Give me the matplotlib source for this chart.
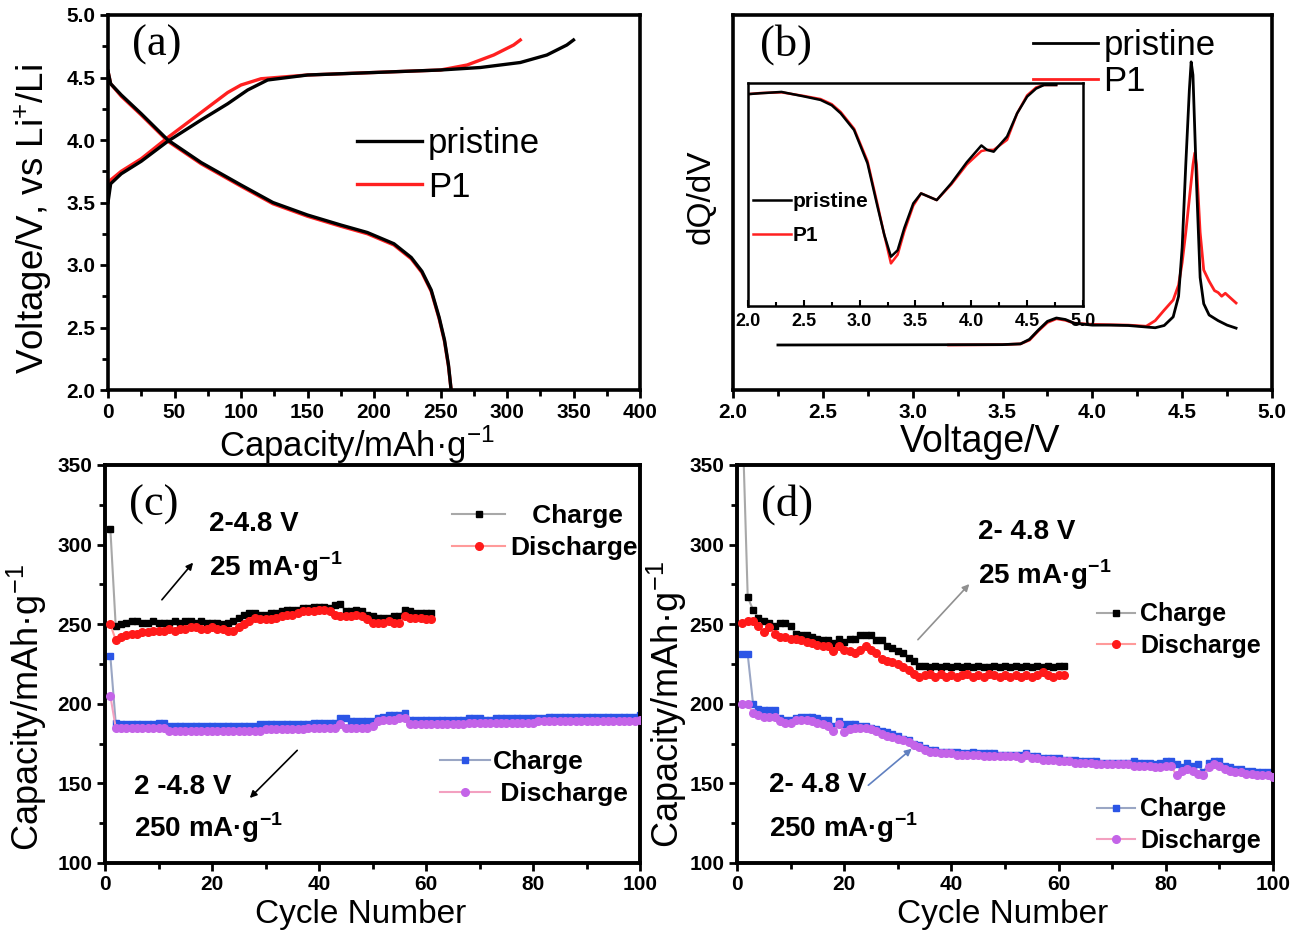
import matplotlib
matplotlib.use("Agg")
import matplotlib.pyplot as plt
from matplotlib.ticker import MultipleLocator, NullLocator, FormatStrFormatter
import numpy as np

plt.rcParams['font.family'] = ['Liberation Sans', 'DejaVu Sans']
plt.rcParams['mathtext.fontset'] = 'custom'
plt.rcParams['mathtext.rm'] = 'Liberation Sans'
plt.rcParams['mathtext.bf'] = 'Liberation Sans:bold'

# (a) charge / discharge profiles
a_chg_pris_cap = [0, 2, 10, 25, 45, 70, 90, 105, 120, 150, 200, 250, 280, 310, 330, 345, 350]
a_chg_pris_v = [3.50, 3.65, 3.73, 3.83, 3.99, 4.16, 4.29, 4.40, 4.48, 4.52, 4.54, 4.56, 4.58, 4.62, 4.68, 4.76, 4.80]
a_chg_p1_cap = [0, 2, 10, 25, 45, 70, 90, 100, 115, 150, 200, 250, 270, 290, 305, 310]
a_chg_p1_v = [3.55, 3.68, 3.75, 3.85, 4.02, 4.22, 4.38, 4.44, 4.49, 4.52, 4.54, 4.56, 4.60, 4.68, 4.76, 4.80]
a_dis_cap = [0, 2, 10, 25, 45, 70, 100, 124, 150, 175, 195, 215, 228, 236, 243, 249, 253, 256, 258]
a_dis_pris_v = [4.55, 4.45, 4.36, 4.21, 4.00, 3.82, 3.64, 3.50, 3.40, 3.32, 3.26, 3.17, 3.06, 2.95, 2.80, 2.58, 2.40, 2.20, 2.00]
a_dis_p1_v = [4.55, 4.45, 4.35, 4.20, 3.99, 3.81, 3.63, 3.49, 3.39, 3.31, 3.25, 3.16, 3.05, 2.94, 2.79, 2.57, 2.39, 2.19, 2.00]

# (b) dQ/dV
b_pris_v = [2.25, 3.5, 3.6, 3.65, 3.7, 3.75, 3.8, 3.85, 3.9, 4.0, 4.1, 4.2, 4.3, 4.35, 4.4, 4.45,
            4.48, 4.5, 4.52, 4.54, 4.55, 4.56, 4.58, 4.6, 4.62, 4.65, 4.7, 4.75, 4.8]
b_pris_q = [12.0, 12.1, 12.3, 13.5, 16.0, 18.3, 19.2, 18.8, 17.8, 17.3, 17.3, 17.2, 16.8, 16.6, 17.2, 19.5,
            25, 38, 60, 80, 87.5, 84, 55, 30, 23, 20, 18.5, 17.3, 16.5]
b_p1_v = [3.2, 3.5, 3.6, 3.65, 3.7, 3.75, 3.8, 3.85, 3.9, 4.0, 4.1, 4.2, 4.3, 4.35, 4.4, 4.45,
          4.48, 4.5, 4.52, 4.54, 4.56, 4.57, 4.58, 4.6, 4.62, 4.65, 4.68, 4.7, 4.72, 4.74, 4.77, 4.8]
b_p1_q = [12.0, 12.1, 12.3, 13.3, 15.8, 18.0, 19.0, 18.6, 17.8, 17.5, 17.4, 17.3, 17.0, 18.5, 21.3, 24,
          28, 34, 42, 51, 60, 63.2, 60, 42, 32, 29, 26.5, 26, 25, 25.8, 24.5, 23.2]

# (b) inset
ins_v = [2.0, 2.11, 2.3, 2.5, 2.65, 2.75, 2.83, 2.95, 3.07, 3.16, 3.22, 3.28, 3.34, 3.40, 3.48, 3.55,
         3.62, 3.69, 3.82, 3.96, 4.09, 4.14, 4.20, 4.32, 4.41, 4.50, 4.58, 4.65, 4.76]
ins_pris = [0.95, 0.954, 0.96, 0.94, 0.924, 0.90, 0.864, 0.789, 0.64, 0.445, 0.32, 0.221, 0.25, 0.35, 0.46, 0.505,
            0.49, 0.475, 0.55, 0.645, 0.72, 0.70, 0.692, 0.76, 0.864, 0.939, 0.975, 0.991, 0.991]
ins_p1 = [0.95, 0.955, 0.958, 0.942, 0.928, 0.905, 0.87, 0.795, 0.65, 0.455, 0.32, 0.191, 0.23, 0.335, 0.45, 0.505,
          0.49, 0.475, 0.545, 0.635, 0.695, 0.70, 0.70, 0.745, 0.864, 0.945, 0.98, 0.991, 0.991]

# (c) cycling, 25 mA/g
c_chg_hi = [310, 249, 250, 251, 252, 252, 251, 251, 252, 251,
            251, 251, 252, 251, 252, 252, 251, 252, 251, 251,
            251, 250, 251, 252, 254, 256, 257, 257, 256, 256,
            257, 257, 258, 259, 259, 259, 260, 260, 261, 261,
            261, 260, 262, 263, 258, 258, 259, 258, 256, 255,
            254, 254, 254, 255, 255, 259, 258, 257, 257, 257, 257]
c_dis_hi = [250, 240, 242, 243, 244, 244, 245, 245, 246, 246,
            246, 247, 246, 247, 247, 248, 248, 247, 247, 248,
            247, 247, 246, 246, 248, 250, 252, 254, 253, 253,
            253, 254, 255, 256, 256, 257, 258, 258, 258, 259,
            259, 258, 256, 255, 255, 255, 256, 255, 253, 251,
            251, 251, 252, 251, 251, 255, 254, 254, 254, 253, 253]
# (c) cycling, 250 mA/g
c_chg_lo = [230, 188, 187, 187, 187, 187, 187, 187, 187, 188,
            188, 186, 186, 186, 186, 186, 186, 186, 186, 186,
            186, 186, 186, 186, 186, 186, 186, 186, 187, 187,
            187, 187, 187, 187, 187, 187, 187, 187, 188, 188,
            188, 188, 188, 191, 191, 189, 189, 189, 189, 189,
            191, 192, 193, 193, 193, 194, 190, 190, 190, 190,
            190, 190, 190, 190, 190, 190, 190, 191, 191, 191,
            190, 190, 191, 191, 191, 191, 191, 191, 191, 191,
            191, 191, 192, 192, 192, 192, 192, 192, 192, 192,
            192, 192, 192, 192, 192, 192, 192, 192, 192, 193]
c_dis_lo = [205, 185, 185, 185, 185, 185, 185, 185, 185, 185,
            185, 183, 183, 183, 183, 183, 183, 183, 183, 183,
            183, 183, 183, 183, 183, 183, 183, 183, 183, 184,
            184, 184, 184, 184, 184, 184, 184, 185, 185, 185,
            185, 185, 185, 187, 185, 185, 185, 185, 185, 186,
            189, 190, 190, 190, 191, 191, 187, 187, 187, 187,
            187, 187, 187, 187, 187, 187, 187, 188, 188, 188,
            188, 188, 188, 188, 188, 188, 188, 188, 188, 188,
            189, 189, 189, 189, 189, 189, 189, 189, 189, 189,
            189, 189, 189, 189, 189, 189, 189, 189, 189, 190]

# (d) cycling, 25 mA/g
d_chg_hi = [380, 267, 259, 254, 252, 251, 249, 251, 251, 249,
            244, 243, 243, 242, 241, 240, 240, 238, 241, 239,
            241, 241, 243, 243, 243, 240, 240, 236, 235, 233,
            232, 229, 227, 224, 224, 223, 224, 223, 224, 223,
            224, 223, 224, 223, 224, 223, 223, 224, 223, 224,
            223, 224, 223, 224, 223, 224, 223, 224, 223, 224, 224]
d_dis_hi = [251, 252, 252, 249, 245, 248, 244, 242, 242, 241,
            241, 240, 239, 238, 237, 236, 236, 233, 236, 234,
            233, 232, 234, 236, 234, 232, 228, 227, 226, 225,
            223, 221, 219, 217, 218, 219, 217, 219, 217, 218,
            217, 218, 219, 217, 218, 217, 219, 218, 217, 218,
            217, 218, 217, 218, 217, 218, 220, 218, 217, 218, 218]
# (d) cycling, 250 mA/g
d_chg_lo = [231, 231, 200, 197, 196, 196, 196, 191, 190, 190,
            191, 192, 192, 192, 191, 190, 190, 186, 189, 187,
            187, 187, 186, 186, 185, 184, 183, 182, 181, 180,
            178, 177, 175, 174, 172, 171, 171, 170, 170, 170,
            170, 169, 169, 170, 169, 169, 169, 169, 168, 168,
            168, 168, 168, 169, 167, 167, 166, 166, 166, 166,
            165, 165, 165, 164, 164, 164, 164, 163, 163, 163,
            163, 163, 163, 164, 163, 163, 163, 162, 163, 164,
            164, 162, 160, 163, 161, 162, 157, 163, 164, 164,
            161, 160, 159, 159, 158, 158, 157, 157, 157, 156]
d_dis_lo = [200, 200, 194, 193, 192, 192, 192, 189, 188, 188,
            190, 190, 190, 189, 188, 187, 186, 183, 187, 182,
            184, 185, 185, 185, 184, 183, 181, 180, 179, 178,
            177, 176, 174, 173, 171, 170, 170, 169, 169, 169,
            168, 168, 168, 168, 168, 167, 167, 167, 167, 167,
            167, 167, 166, 168, 166, 166, 165, 165, 165, 164,
            164, 164, 163, 163, 163, 163, 162, 162, 162, 162,
            162, 162, 162, 161, 161, 161, 161, 160, 160, 161,
            161, 155, 158, 159, 158, 156, 155, 160, 162, 161,
            159, 158, 157, 157, 156, 156, 155, 155, 155, 154]

W, H = 1299, 943
fig = plt.figure(figsize=(W / 100, H / 100), dpi=100)


def box(l, t, r, b):
    return [l / W, 1 - b / H, (r - l) / W, (b - t) / H]


def style(ax, tick_size=15, lw=2.6):
    for s in ax.spines.values():
        s.set_linewidth(lw)
    ax.tick_params(which='both', direction='out', top=False, right=False, width=2)
    ax.tick_params(which='major', length=6, labelsize=tick_size, pad=3)
    ax.tick_params(which='minor', length=4)
    for lab in ax.get_xticklabels() + ax.get_yticklabels():
        lab.set_fontweight('bold')


panel_font = dict(family='Liberation Serif', fontsize=32)
sup = r'$^{\mathbf{-1}}$'

# ---------- (a)
ax = fig.add_axes(box(108, 15, 640, 390))
ax.plot(a_chg_p1_cap, a_chg_p1_v, color='#ff2020', lw=2.4, label='P1', zorder=2)
ax.plot(a_chg_pris_cap, a_chg_pris_v, color='black', lw=2.4, label='pristine', zorder=3)
ax.plot(a_dis_cap, a_dis_p1_v, color='#ff2020', lw=2.4, zorder=2)
ax.plot(a_dis_cap, a_dis_pris_v, color='black', lw=2.4, zorder=3)
ax.set_xlim(0, 400)
ax.set_ylim(2.0, 5.0)
ax.xaxis.set_major_locator(MultipleLocator(50))
ax.xaxis.set_minor_locator(MultipleLocator(25))
ax.yaxis.set_major_locator(MultipleLocator(0.5))
ax.yaxis.set_minor_locator(MultipleLocator(0.25))
ax.yaxis.set_major_formatter(FormatStrFormatter('%.1f'))
style(ax, tick_size=15)
ax.set_xlabel('Capacity/mAh·g$^{-1}$', fontsize=25, va='top')
ax.xaxis.set_label_coords(0.468, -0.09)
ax.set_ylabel('Voltage/V, vs Li$^{+}$/Li', fontsize=26.5)
ax.yaxis.set_label_coords(-0.10, 0.456)
h, l = ax.get_legend_handles_labels()
ax.legend(h[::-1], l[::-1], loc='upper left', bbox_to_anchor=(0.468, 0.70), frameon=False,
          fontsize=25, handlelength=1.87, handletextpad=0.17, labelspacing=0.29,
          borderpad=0, borderaxespad=0)
ax.text(0.045, 0.92, '(a)', transform=ax.transAxes, va='center', **panel_font)

# ---------- (b)
ax = fig.add_axes(box(733, 15, 1272, 390))
ax.plot(b_pris_v, b_pris_q, color='black', lw=2.0, label='pristine', zorder=3)
ax.plot(b_p1_v, b_p1_q, color='#ff2020', lw=2.0, label='P1', zorder=2)
ax.set_xlim(2.0, 5.0)
ax.set_ylim(0, 100)
ax.xaxis.set_major_locator(MultipleLocator(0.5))
ax.xaxis.set_minor_locator(MultipleLocator(0.25))
ax.yaxis.set_major_locator(NullLocator())
ax.xaxis.set_major_formatter(FormatStrFormatter('%.1f'))
style(ax, tick_size=15)
ax.set_xlabel('Voltage/V', fontsize=27, va='top')
ax.xaxis.set_label_coords(0.458, -0.09)
ax.set_ylabel('dQ/dV', fontsize=24)
ax.yaxis.set_label_coords(-0.03, 0.515)
ax.legend(loc='upper left', bbox_to_anchor=(0.557, 0.962), frameon=False,
          fontsize=25, handlelength=1.87, handletextpad=0.15, labelspacing=0.08,
          borderpad=0, borderaxespad=0)
ax.text(0.05, 0.92, '(b)', transform=ax.transAxes, va='center', **panel_font)

ins = fig.add_axes(box(748, 83, 1083, 306))
ins.plot(ins_v, ins_pris, color='black', lw=1.8, label='pristine', zorder=3)
ins.plot(ins_v, ins_p1, color='#ff2020', lw=1.8, label='P1', zorder=2)
ins.set_xlim(2.0, 5.0)
ins.set_ylim(0, 1.0)
ins.xaxis.set_major_locator(MultipleLocator(0.5))
ins.xaxis.set_minor_locator(MultipleLocator(0.25))
ins.yaxis.set_major_locator(NullLocator())
ins.xaxis.set_major_formatter(FormatStrFormatter('%.1f'))
for s in ins.spines.values():
    s.set_linewidth(1.8)
ins.tick_params(which='both', direction='in', top=False, right=False, width=1.5)
ins.tick_params(which='major', length=4, labelsize=13, pad=5)
ins.tick_params(which='minor', length=3)
for lab in ins.get_xticklabels():
    lab.set_fontweight('bold')
ins.legend(loc='upper left', bbox_to_anchor=(0.015, 0.51), frameon=False,
           prop=dict(size=15, weight='bold'), handlelength=1.8, handletextpad=0.1,
           labelspacing=0.7, borderpad=0, borderaxespad=0)


# ---------- (c) and (d)
def cycle_panel(rect, chg_hi, dis_hi, chg_lo, dis_lo, label):
    ax = fig.add_axes(rect)
    ax.plot(np.arange(1, len(chg_lo) + 1), chg_lo, color='#9aa6c4', lw=1.5, marker='s', ms=5,
            mfc='#2b55e6', mec='#2b55e6', label='Charge', zorder=2)
    ax.plot(np.arange(1, len(dis_lo) + 1), dis_lo, color='#f3a0c0', lw=1.5, marker='o', ms=5.5,
            mfc='#c464e8', mec='#c464e8', label='Discharge', zorder=3)
    ax.plot(np.arange(1, len(chg_hi) + 1), chg_hi, color='#a8a8a8', lw=1.5, marker='s', ms=5,
            mfc='black', mec='black', label='Charge', zorder=2)
    ax.plot(np.arange(1, len(dis_hi) + 1), dis_hi, color='#ff9a9a', lw=1.5, marker='o', ms=5.5,
            mfc='#ff1a1a', mec='#ff1a1a', label='Discharge', zorder=3)
    ax.set_xlim(0, 100)
    ax.set_ylim(100, 350)
    ax.xaxis.set_major_locator(MultipleLocator(20))
    ax.xaxis.set_minor_locator(MultipleLocator(10))
    ax.yaxis.set_major_locator(MultipleLocator(50))
    ax.yaxis.set_minor_locator(MultipleLocator(25))
    style(ax, tick_size=15, lw=2.8)
    ax.set_xlabel('Cycle Number', fontsize=24, va='top')
    ax.set_ylabel('Capacity/mAh·g$^{-1}$', fontsize=26)
    ax.text(0.045, 0.9, label, transform=ax.transAxes, va='center', **panel_font)
    return ax


bold_leg = dict(size=19, weight='bold')
ax_c = cycle_panel(box(105, 465, 640, 863), c_chg_hi, c_dis_hi, c_chg_lo, c_dis_lo, '(c)')
ax_c.xaxis.set_label_coords(0.477, -0.09)
ax_c.yaxis.set_label_coords(-0.104, 0.39)
h, l = ax_c.get_legend_handles_labels()
leg = ax_c.legend(h[2:], ['   Charge', 'Discharge'], loc='upper left', bbox_to_anchor=(0.649, 0.902),
                  frameon=False, prop=bold_leg, handlelength=2.0,
                  handletextpad=0.19, labelspacing=0.32, borderpad=0, borderaxespad=0)
ax_c.add_artist(leg)
ax_c.legend(h[:2], ['Charge', ' Discharge'], loc='upper left', bbox_to_anchor=(0.626, 0.284),
            frameon=False, prop=bold_leg, handlelength=1.9,
            handletextpad=0.11, labelspacing=0.32, borderpad=0, borderaxespad=0)
bold = dict(fontsize=20, fontweight='bold', va='center')
ax_c.text(19.5, 313, '2-4.8 V', **bold)
ax_c.text(19.5, 286, '25 mA·g' + sup, **bold)
ax_c.annotate('', xy=(16.8, 290), xytext=(10.3, 264),
              arrowprops=dict(arrowstyle='-|>', color='black', lw=1.2, mutation_scale=10))
ax_c.text(5.5, 148, '2 -4.8 V', **bold)
ax_c.text(5.5, 122, '250 mA·g' + sup, **bold)
ax_c.annotate('', xy=(26.7, 139.6), xytext=(36.3, 172),
              arrowprops=dict(arrowstyle='-|>', color='black', lw=1.2, mutation_scale=10))

ax_d = cycle_panel(box(737, 465, 1273, 863), d_chg_hi, d_dis_hi, d_chg_lo, d_dis_lo, '(d)')
ax_d.xaxis.set_label_coords(0.496, -0.09)
ax_d.yaxis.set_label_coords(-0.09, 0.397)
h, l = ax_d.get_legend_handles_labels()
bold_leg_d = dict(size=18, weight='bold')
leg = ax_d.legend(h[2:], ['Charge', 'Discharge'], loc='upper left', bbox_to_anchor=(0.672, 0.655),
                  frameon=False, prop=bold_leg_d, handlelength=1.52,
                  handletextpad=0.2, labelspacing=0.31, borderpad=0, borderaxespad=0)
ax_d.add_artist(leg)
ax_d.legend(h[:2], ['Charge', 'Discharge'], loc='upper left', bbox_to_anchor=(0.672, 0.165),
            frameon=False, prop=bold_leg_d, handlelength=1.52,
            handletextpad=0.2, labelspacing=0.31, borderpad=0, borderaxespad=0)
ax_d.text(45, 308, '2- 4.8 V', **bold)
ax_d.text(45, 281, '25 mA·g' + sup, **bold)
ax_d.annotate('', xy=(43.7, 276.5), xytext=(33.4, 239),
              arrowprops=dict(arrowstyle='-|>', color='#909090', lw=1.2, mutation_scale=10))
ax_d.text(6.0, 149, '2- 4.8 V', **bold)
ax_d.text(6.0, 122, '250 mA·g' + sup, **bold)
ax_d.annotate('', xy=(33, 172.9), xytext=(24.1, 147.7),
              arrowprops=dict(arrowstyle='-|>', color='#6080c0', lw=1.2, mutation_scale=10))

fig.savefig('out.png', dpi=100)
